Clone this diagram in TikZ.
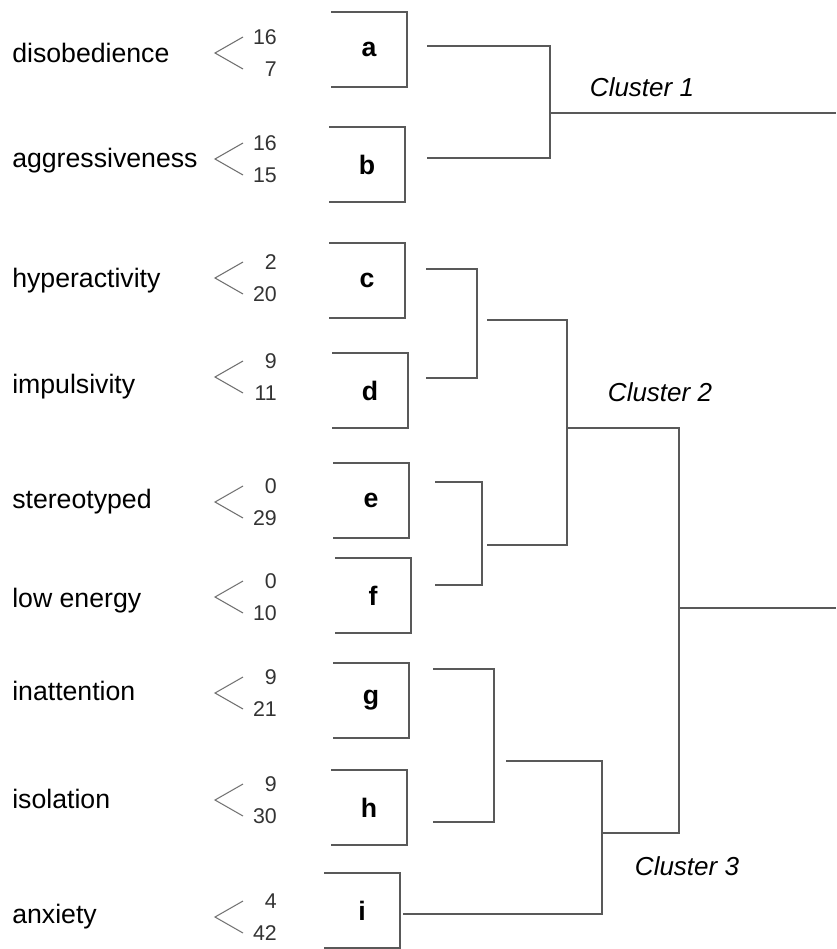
\documentclass[tikz,border=0pt]{standalone}
\usepackage{fontspec}
\setmainfont{Liberation Sans}
\begin{document}
\begin{tikzpicture}[x=0.75pt, y=-0.75pt,
    link/.style={draw=black!65, line width=1.1pt},
    fork/.style={draw=black!55, line width=0.8pt},
    lab/.style={inner sep=0pt, font=\fontsize{20}{24}\selectfont},
    num/.style={inner sep=0pt, text=black!80, font=\fontsize{16}{18}\selectfont},
    leaf/.style={inner sep=0pt, outer sep=0pt, minimum width=57pt, minimum height=56.25pt,
                 font=\fontsize{20}{24}\selectfont\bfseries},
    clus/.style={inner sep=0pt, font=\fontsize{19.5}{24}\selectfont\itshape}]

\useasboundingbox (0,0) rectangle (836,949);

% --- Variabili, frequenze e caselle ---
\foreach \n/\txt/\tip/\base/\bx/\by/\up/\dn in {
    a/disobedience/53/63/331/12/16/7,
    b/aggressiveness/159/167/329/127/16/15,
    c/hyperactivity/278/287/329/243/2/20,
    d/impulsivity/377/393/332/353/9/11,
    e/stereotyped/502/508/333/463/0/29,
    f/low energy/597/607/335/558/0/10,
    g/inattention/693/700/333/663/9/21,
    h/isolation/800/808/331/770/9/30,
    i/anxiety/917/923/324/873/4/42}{
  \node[lab, anchor=base west] (lab-\n) at (12,\base) {\txt};
  \draw[fork] (243,\tip-16) -- (215,\tip) -- (243,\tip+16);
  \node[num, anchor=east] (top-\n) at (277,\tip-16) {\up};
  \node[num, anchor=east] (bot-\n) at (277,\tip+16) {\dn};
  \node[leaf] (\n) at (\bx+38,\by+37.5) {\n};
  \draw[link] (\n.north west) -- (\n.north east) -- (\n.south east) -- (\n.south west);
}

% --- Punti di attacco dei rami ---
\coordinate (a-out) at (427,46);
\coordinate (b-out) at (427,158);
\coordinate (c-out) at (426,269);
\coordinate (d-out) at (426,378);
\coordinate (e-out) at (435,482);
\coordinate (f-out) at (435,585);
\coordinate (g-out) at (433,669);
\coordinate (h-out) at (433,822);
\coordinate (i-out) at (403,914);

% --- Nodi interni del dendrogramma ---
\coordinate (ab) at (550,113);
\coordinate (cd) at (477,320);
\coordinate (cd-out) at (487,320);
\coordinate (ef) at (482,545);
\coordinate (ef-out) at (487,545);
\coordinate (cdef) at (567,428);
\coordinate (gh) at (494,761);
\coordinate (gh-out) at (506,761);
\coordinate (ghi) at (602,833);
\coordinate (root) at (679,608);
\coordinate (end1) at (836,113);
\coordinate (end2) at (836,608);

% --- Rami ---
\draw[link] (a-out) -| (ab) |- (b-out);
\draw[link] (ab) -- (end1);
\draw[link] (c-out) -| (cd) |- (d-out);
\draw[link] (e-out) -| (ef) |- (f-out);
\draw[link] (cd-out) -| (cdef) |- (ef-out);
\draw[link] (g-out) -| (gh) |- (h-out);
\draw[link] (gh-out) -| (ghi) |- (i-out);
\draw[link] (cdef) -| (root) |- (ghi);
\draw[link] (root) -- (end2);

% --- Etichette dei cluster ---
\node[clus] (cl-1) at (642,87) {Cluster 1};
\node[clus] (cl-2) at (660,392) {Cluster 2};
\node[clus] (cl-3) at (687,866) {Cluster 3};

\end{tikzpicture}
\end{document}
